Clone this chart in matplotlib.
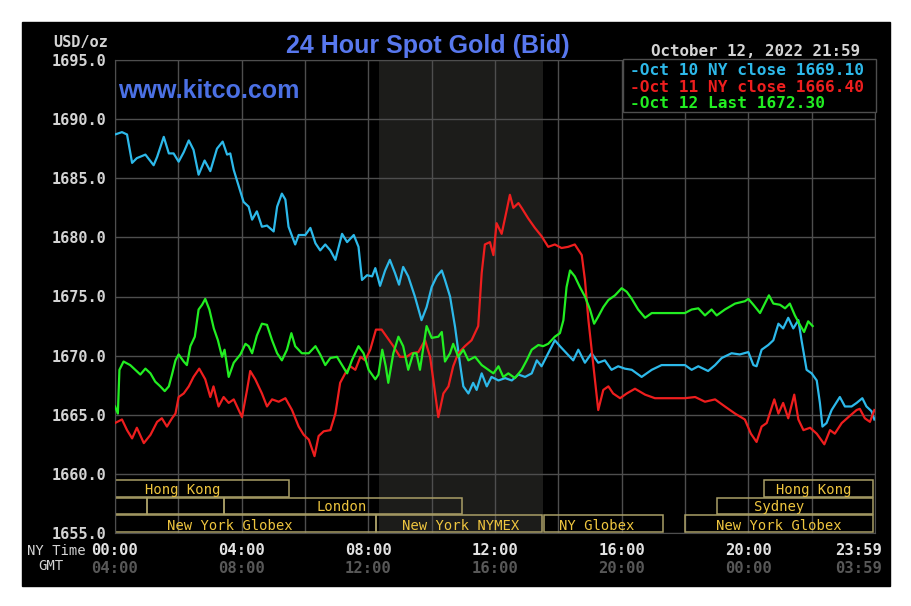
import matplotlib
matplotlib.use('Agg')
import matplotlib.pyplot as plt
from matplotlib.patches import Rectangle
from matplotlib.transforms import blended_transform_factory

# hours after 00:00 NY time, bid price in USD/oz
oct10_h = [0.00, 0.22, 0.38, 0.54, 0.69, 0.96, 1.22, 1.33, 1.54, 1.70, 1.85, 2.01, 2.17, 2.33, 2.48,
           2.64, 2.83, 3.01, 3.22, 3.40, 3.54, 3.64, 3.75, 3.91, 4.06, 4.22, 4.33, 4.48, 4.64, 4.80,
           5.01, 5.12, 5.27, 5.38, 5.48, 5.69, 5.80, 6.01, 6.17, 6.33, 6.48, 6.64, 6.80, 6.96, 7.17,
           7.33, 7.54, 7.69, 7.80, 7.96, 8.12, 8.22, 8.37, 8.53, 8.68, 8.84, 8.97, 9.10, 9.26, 9.47,
           9.68, 9.84, 10.00, 10.16, 10.32, 10.42, 10.58, 10.74, 10.89, 11.00, 11.16, 11.31, 11.42,
           11.58, 11.74, 11.89, 12.11, 12.32, 12.53, 12.74, 12.95, 13.16, 13.32, 13.47, 13.68, 13.89,
           14.05, 14.26, 14.47, 14.63, 14.84, 15.05, 15.26, 15.47, 15.68, 15.89, 16.10, 16.32, 16.63,
           16.95, 17.26, 18.00, 18.21, 18.42, 18.73, 18.95, 19.16, 19.47, 19.73, 20.00, 20.16, 20.26,
           20.42, 20.63, 20.79, 20.95, 21.10, 21.26, 21.42, 21.58, 21.68, 21.84, 22.00, 22.16, 22.26,
           22.34, 22.47, 22.63, 22.89, 23.05, 23.26, 23.42, 23.60, 23.73, 23.89, 23.98]
oct10_p = [1688.7, 1688.9, 1688.7, 1686.3, 1686.7, 1687.0, 1686.1, 1686.8, 1688.5, 1687.1, 1687.1,
           1686.4, 1687.2, 1688.2, 1687.4, 1685.3, 1686.5, 1685.6, 1687.5, 1688.1, 1687.0, 1687.1,
           1685.7, 1684.3, 1683.0, 1682.6, 1681.5, 1682.2, 1680.9, 1681.0, 1680.5, 1682.6, 1683.7,
           1683.2, 1680.9, 1679.4, 1680.2, 1680.2, 1680.8, 1679.5, 1678.9, 1679.4, 1678.9, 1678.1,
           1680.3, 1679.6, 1680.2, 1679.2, 1676.4, 1676.8, 1676.7, 1677.4, 1675.9, 1677.2, 1678.1,
           1677.0, 1676.0, 1677.5, 1676.7, 1675.0, 1673.0, 1674.1, 1675.8, 1676.7, 1677.2, 1676.4,
           1675.0, 1672.4, 1669.4, 1667.4, 1666.8, 1667.7, 1667.1, 1668.5, 1667.4, 1668.2, 1667.9,
           1668.1, 1667.9, 1668.4, 1668.2, 1668.5, 1669.6, 1669.1, 1670.2, 1671.3, 1670.8, 1670.2,
           1669.6, 1670.5, 1669.4, 1670.2, 1669.4, 1669.6, 1668.8, 1669.1, 1668.9, 1668.8, 1668.2,
           1668.8, 1669.2, 1669.2, 1668.8, 1669.1, 1668.7, 1669.2, 1669.8, 1670.2, 1670.1, 1670.3,
           1669.2, 1669.1, 1670.5, 1670.9, 1671.3, 1672.7, 1672.3, 1673.2, 1672.3, 1673.0, 1671.3,
           1668.8, 1668.5, 1667.9, 1666.0, 1664.0, 1664.3, 1665.4, 1666.5, 1665.7, 1665.7, 1666.0,
           1666.4, 1665.7, 1665.3, 1664.6]

oct11_h = [0.00, 0.22, 0.38, 0.54, 0.69, 0.91, 1.12, 1.33, 1.48, 1.64, 1.80, 1.91, 2.01, 2.17, 2.33,
           2.48, 2.66, 2.85, 3.01, 3.11, 3.27, 3.43, 3.59, 3.75, 4.01, 4.17, 4.27, 4.43, 4.64, 4.80,
           4.96, 5.17, 5.38, 5.59, 5.80, 5.96, 6.12, 6.30, 6.43, 6.59, 6.80, 6.96, 7.11, 7.27, 7.43,
           7.59, 7.75, 7.90, 8.06, 8.24, 8.42, 8.58, 8.79, 9.00, 9.21, 9.37, 9.58, 9.79, 9.95, 10.08,
           10.21, 10.37, 10.53, 10.68, 10.84, 11.05, 11.26, 11.47, 11.58, 11.68, 11.84, 11.95, 12.05,
           12.21, 12.37, 12.47, 12.58, 12.74, 12.84, 13.05, 13.26, 13.47, 13.68, 13.89, 14.10, 14.31,
           14.52, 14.74, 14.84, 14.95, 15.11, 15.26, 15.42, 15.58, 15.73, 15.95, 16.16, 16.42, 16.74,
           17.05, 18.00, 18.32, 18.63, 18.95, 19.26, 19.58, 19.89, 20.08, 20.26, 20.42, 20.58, 20.82,
           20.95, 21.10, 21.26, 21.45, 21.58, 21.74, 21.95, 22.16, 22.40, 22.58, 22.73, 22.95, 23.16,
           23.42, 23.52, 23.68, 23.84, 23.98]
oct11_p = [1664.3, 1664.6, 1663.7, 1663.0, 1663.9, 1662.6, 1663.3, 1664.4, 1664.7, 1664.0, 1664.7,
           1665.1, 1666.5, 1666.8, 1667.4, 1668.2, 1668.9, 1668.0, 1666.5, 1667.4, 1665.7, 1666.5,
           1666.0, 1666.3, 1664.8, 1667.1, 1668.7, 1668.0, 1666.8, 1665.7, 1666.3, 1666.1, 1666.4,
           1665.4, 1664.0, 1663.3, 1662.9, 1661.5, 1663.2, 1663.6, 1663.7, 1665.1, 1667.7, 1668.5,
           1669.1, 1668.8, 1669.9, 1669.6, 1670.5, 1672.2, 1672.2, 1671.6, 1670.8, 1669.9, 1669.9,
           1670.2, 1670.3, 1671.3, 1669.9, 1667.4, 1664.8, 1666.8, 1667.4, 1669.1, 1670.2, 1670.8,
           1671.3, 1672.5, 1677.0, 1679.4, 1679.6, 1678.5, 1681.2, 1680.3, 1682.3, 1683.6, 1682.5,
           1682.9, 1682.5, 1681.6, 1680.8, 1680.1, 1679.2, 1679.4, 1679.1, 1679.2, 1679.4, 1678.5,
           1676.4, 1673.0, 1669.1, 1665.4, 1667.1, 1667.4, 1666.8, 1666.4, 1666.8, 1667.2, 1666.7,
           1666.4, 1666.4, 1666.5, 1666.1, 1666.3, 1665.7, 1665.1, 1664.6, 1663.4, 1662.7, 1664.0,
           1664.3, 1666.3, 1665.1, 1666.0, 1664.7, 1666.7, 1664.6, 1663.7, 1663.9, 1663.4, 1662.5,
           1663.7, 1663.4, 1664.3, 1664.8, 1665.4, 1665.5, 1664.7, 1664.4, 1665.4]

oct12_h = [0.00, 0.09, 0.14, 0.27, 0.48, 0.64, 0.80, 0.96, 1.12, 1.27, 1.43, 1.57, 1.70, 1.80, 1.91,
           2.01, 2.17, 2.27, 2.38, 2.52, 2.64, 2.75, 2.85, 2.98, 3.12, 3.25, 3.38, 3.46, 3.59, 3.75,
           3.96, 4.12, 4.22, 4.33, 4.48, 4.64, 4.80, 4.96, 5.12, 5.27, 5.43, 5.57, 5.69, 5.90, 6.12,
           6.33, 6.48, 6.64, 6.80, 7.01, 7.17, 7.33, 7.48, 7.69, 7.85, 8.01, 8.22, 8.32, 8.44, 8.55,
           8.63, 8.79, 8.95, 9.10, 9.26, 9.42, 9.52, 9.63, 9.84, 10.00, 10.21, 10.32, 10.42, 10.58,
           10.68, 10.84, 11.00, 11.16, 11.37, 11.58, 11.79, 11.95, 12.11, 12.26, 12.42, 12.63, 12.84,
           13.00, 13.16, 13.37, 13.52, 13.68, 13.89, 14.05, 14.16, 14.26, 14.37, 14.52, 14.68, 14.84,
           15.00, 15.13, 15.26, 15.42, 15.58, 15.79, 16.00, 16.16, 16.32, 16.52, 16.74, 16.95, 18.00,
           18.21, 18.42, 18.63, 18.84, 19.00, 19.26, 19.58, 19.89, 20.00, 20.16, 20.37, 20.52, 20.65,
           20.79, 21.00, 21.16, 21.31, 21.47, 21.63, 21.76, 21.89, 22.03]
oct12_p = [1665.7, 1665.1, 1668.8, 1669.5, 1669.2, 1668.8, 1668.4, 1668.9, 1668.5, 1667.8, 1667.4,
           1667.0, 1667.4, 1668.4, 1669.6, 1670.1, 1669.5, 1669.2, 1670.8, 1671.6, 1673.9, 1674.3,
           1674.8, 1673.9, 1672.3, 1671.3, 1669.9, 1670.5, 1668.2, 1669.4, 1670.1, 1671.0, 1670.8,
           1670.2, 1671.7, 1672.7, 1672.6, 1671.3, 1670.2, 1669.6, 1670.5, 1671.9, 1670.8, 1670.2,
           1670.2, 1670.8, 1670.1, 1669.2, 1669.8, 1669.9, 1669.2, 1668.5, 1669.6, 1670.8, 1670.2,
           1668.8, 1668.0, 1668.4, 1670.5, 1669.1, 1667.7, 1670.2, 1671.6, 1670.8, 1668.8, 1670.2,
           1670.2, 1668.8, 1672.5, 1671.5, 1671.6, 1672.0, 1669.5, 1670.2, 1671.0, 1669.9, 1670.5,
           1669.6, 1669.9, 1669.2, 1668.8, 1668.5, 1669.1, 1668.2, 1668.5, 1668.1, 1668.8, 1669.6,
           1670.5, 1670.9, 1670.8, 1671.0, 1671.6, 1671.9, 1673.0, 1675.8, 1677.2, 1676.7, 1675.8,
           1675.0, 1673.9, 1672.7, 1673.3, 1674.1, 1674.7, 1675.1, 1675.7, 1675.4, 1674.8, 1673.9,
           1673.2, 1673.6, 1673.6, 1673.9, 1674.0, 1673.4, 1673.9, 1673.4, 1673.9, 1674.4, 1674.6,
           1674.8, 1674.3, 1673.6, 1674.4, 1675.1, 1674.4, 1674.3, 1674.0, 1674.4, 1673.4, 1672.6,
           1672.0, 1672.9, 1672.5]

legend_labels = ['Oct 10 NY close 1669.10', 'Oct 11 NY close 1666.40', 'Oct 12 Last 1672.30']
line_colors = ['#2db9ea', '#ee1e1e', '#22ee22']

ny_hours = [0, 4, 8, 12, 16, 20, 24]
ny_labels = ['00:00', '04:00', '08:00', '12:00', '16:00', '20:00', '23:59']
gmt_labels = ['04:00', '08:00', '12:00', '16:00', '20:00', '00:00', '03:59']

# trading sessions: name, start, end (NY hours), row (0 = top)
sess_names = ['Hong Kong', '', '', 'London', 'New York Globex', 'New York NYMEX', 'NY Globex',
              'New York Globex', 'Sydney', 'Hong Kong']
sess_start = [0, 0, 1.0, 3.45, 0, 8.25, 13.55, 18.0, 19.0, 20.5]
sess_end = [5.5, 1.0, 3.45, 10.95, 8.25, 13.47, 17.3, 23.95, 23.95, 23.95]
sess_row = [0, 1, 1, 1, 2, 2, 2, 2, 1, 0]
sess_label_x = [2.15, 0, 0, 7.17, 3.63, 10.9, 15.2, 20.97, 20.97, 22.05]

nymex_open = 8 + 20 / 60
nymex_close = 13.5

W, H = 912, 606


def fx(x):
    return x / W


def fy(y):
    return 1 - y / H


fig = plt.figure(figsize=(W / 100, H / 100), dpi=100, facecolor='white')
fig.patches.append(Rectangle((fx(22), fy(586)), (890 - 22) / W, (586 - 22) / H,
                             transform=fig.transFigure, color='black', zorder=-10))

ax = fig.add_axes([fx(115), fy(533), 760 / W, 473 / H])
ax.set_facecolor('black')
ax.set_xlim(0, 24)
ax.set_ylim(1655, 1695)
ax.set_xticks(range(0, 25, 2))
ax.set_yticks(range(1655, 1700, 5))
ax.set_xticklabels([])
ax.set_yticklabels(['%.1f' % v for v in range(1655, 1700, 5)])
ax.tick_params(axis='both', length=0, pad=6)
for lab in ax.get_yticklabels():
    lab.set_family('DejaVu Sans Mono')
    lab.set_fontweight('bold')
    lab.set_fontsize(11)
    lab.set_color('#d4d4d4')
ax.set_axisbelow(True)
ax.grid(True, color='#4e4e4e', lw=1)
for s in ax.spines.values():
    s.set_color('#4e4e4e')

ax.axvspan(nymex_open, nymex_close, color='#1c1c1a', zorder=0.2, lw=0)

ax.plot(oct10_h, oct10_p, color=line_colors[0], lw=1.6, zorder=3)
ax.plot(oct11_h, oct11_p, color=line_colors[1], lw=1.6, zorder=3)
ax.plot(oct12_h, oct12_p, color=line_colors[2], lw=1.6, zorder=3)

# session boxes along the bottom
tr = blended_transform_factory(ax.transData, ax.transAxes)
row_bottom = [0.077, 0.040, 0.002]
row_height = 0.035
label_base = [0.083, 0.046, 0.007]
for name, a, b, r, lx in zip(sess_names, sess_start, sess_end, sess_row, sess_label_x):
    ax.add_patch(Rectangle((a, row_bottom[r]), b - a, row_height, transform=tr,
                           facecolor='none', edgecolor='#a99e66', lw=1.1, zorder=2))
    if name:
        ax.text(lx, label_base[r], name, transform=tr, ha='center', va='baseline',
                color='#eec53f', fontsize=10, family='DejaVu Sans Mono', zorder=2)

mono = 'DejaVu Sans Mono'
fig.text(fx(108), fy(46.5), 'USD/oz', ha='right', va='baseline', color='#d4d4d4',
         fontsize=11, fontweight='bold', family=mono)
fig.text(fx(428), fy(53), '24 Hour Spot Gold (Bid)', ha='center', va='baseline',
         color='#5878ee', fontsize=18, fontweight='bold', family='Liberation Sans')
ax.text(0.004, (533 - 98) / 473, 'www.kitco.com', transform=ax.transAxes,
        ha='left', va='baseline', color='#4b70e4', fontsize=18, fontweight='bold',
        family='Liberation Sans', zorder=2)
fig.text(fx(860), fy(56), 'October 12, 2022 21:59', ha='right', va='baseline',
         color='#d4d4d4', fontsize=11.4, fontweight='bold', family=mono)

# legend box
fig.patches.append(Rectangle((fx(623), fy(112)), (876 - 623) / W, (112 - 59) / H,
                             transform=fig.transFigure, facecolor='black',
                             edgecolor='#4e4e4e', lw=1, zorder=5))
for i, (lab, c) in enumerate(zip(legend_labels, line_colors)):
    fig.text(fx(630), fy(75 + 16.5 * i), '-' + lab, ha='left', va='baseline', color=c,
             fontsize=11.6, fontweight='bold', family=mono, zorder=6)

# time axis labels
tx = blended_transform_factory(ax.transData, fig.transFigure)
for h, a, g in zip(ny_hours, ny_labels, gmt_labels):
    ha = 'center'
    xpos = h
    if h == 24:
        ha = 'right'
        xpos = 24.22
    ax.text(xpos, fy(555), a, transform=tx, ha=ha, va='baseline', color='#e2e2e2',
            fontsize=11.2, fontweight='bold', family=mono, clip_on=False)
    ax.text(xpos, fy(573), g, transform=tx, ha=ha, va='baseline', color='#585858',
            fontsize=11.2, fontweight='bold', family=mono, clip_on=False)
fig.text(fx(27), fy(555), 'NY Time', ha='left', va='baseline', color='#d4d4d4',
         fontsize=10, family=mono)
fig.text(fx(51), fy(570), 'GMT', ha='center', va='baseline', color='#d4d4d4',
         fontsize=10, family=mono)

fig.savefig('out.png', dpi=100, facecolor='white')
